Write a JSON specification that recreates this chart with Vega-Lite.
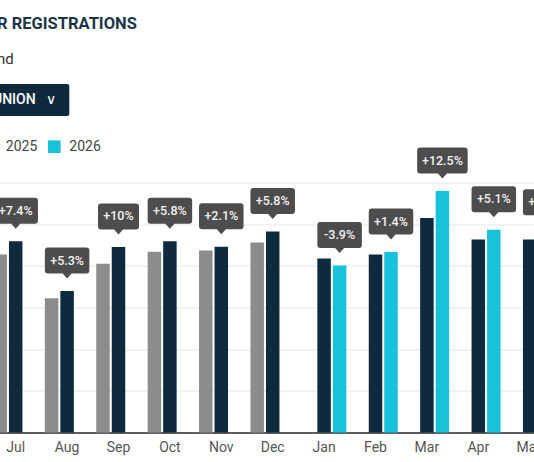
{
  "$schema": "https://vega.github.io/schema/vega-lite/v6.json",
  "width": 565.4,
  "height": 250,
  "autosize": {"type": "none"},
  "padding": {"left": -10, "top": 182.5, "right": -21.4, "bottom": 29.5},
  "background": "white",
  "config": {"view": {"stroke": null}, "font": "Roboto"},
  "title": {
    "text": "R REGISTRATIONS",
    "subtitle": "nd",
    "anchor": "start",
    "frame": "group",
    "dx": 7,
    "font": "Roboto",
    "fontSize": 16.5,
    "fontWeight": "bold",
    "color": "#1b3547",
    "subtitleFont": "Roboto",
    "subtitleFontSize": 15,
    "subtitleColor": "#333333",
    "subtitlePadding": 19.6,
    "offset": 8
  },
  "data": {
    "values": [
      {"month": "Jul", "series": "2024", "value": 855},
      {"month": "Jul", "series": "2025", "value": 918, "change": "+7.4%"},
      {"month": "Aug", "series": "2024", "value": 645},
      {"month": "Aug", "series": "2025", "value": 679, "change": "+5.3%"},
      {"month": "Sep", "series": "2024", "value": 810},
      {"month": "Sep", "series": "2025", "value": 891, "change": "+10%"},
      {"month": "Oct", "series": "2024", "value": 868},
      {"month": "Oct", "series": "2025", "value": 918, "change": "+5.8%"},
      {"month": "Nov", "series": "2024", "value": 874},
      {"month": "Nov", "series": "2025", "value": 892, "change": "+2.1%"},
      {"month": "Dec", "series": "2024", "value": 912},
      {"month": "Dec", "series": "2025", "value": 965, "change": "+5.8%"},
      {"month": "Jan", "series": "2025", "value": 835},
      {"month": "Jan", "series": "2026", "value": 802, "change": "-3.9%"},
      {"month": "Feb", "series": "2025", "value": 854},
      {"month": "Feb", "series": "2026", "value": 866, "change": "+1.4%"},
      {"month": "Mar", "series": "2025", "value": 1030},
      {"month": "Mar", "series": "2026", "value": 1159, "change": "+12.5%"},
      {"month": "Apr", "series": "2025", "value": 926},
      {"month": "Apr", "series": "2026", "value": 973, "change": "+5.1%"},
      {"month": "May", "series": "2025", "value": 926},
      {"month": "May", "series": "2026", "value": 959, "change": "+3.6%"}
    ]
  },
  "encoding": {
    "x": {
      "field": "month",
      "type": "nominal",
      "scale": {
        "domain": ["Jul", "Aug", "Sep", "Oct", "Nov", "Dec", "Jan", "Feb", "Mar", "Apr", "May"],
        "paddingInner": 0.095,
        "paddingOuter": 0.0475
      },
      "axis": {
        "title": null,
        "labelAngle": 0,
        "labelFont": "Roboto",
        "labelFontSize": 14,
        "labelColor": "#555555",
        "labelPadding": 8,
        "ticks": false,
        "domainColor": "#2b2b2b",
        "domainWidth": 1.5,
        "grid": false
      }
    },
    "xOffset": {
      "field": "series",
      "type": "nominal",
      "scale": {"domain": ["2024", "2025", "2026"], "paddingInner": 0.13, "paddingOuter": 0.065}
    },
    "y": {
      "field": "value",
      "type": "quantitative",
      "scale": {"domain": [0, 1200], "nice": false},
      "axis": {
        "title": null,
        "labels": false,
        "ticks": false,
        "domain": false,
        "values": [0, 200, 400, 600, 800, 1000, 1200],
        "gridColor": "#e6e6e6",
        "gridWidth": 1
      }
    }
  },
  "layer": [
    {
      "mark": {"type": "bar"},
      "encoding": {
        "color": {
          "field": "series",
          "type": "nominal",
          "scale": {"domain": ["2024", "2025", "2026"], "range": ["#8c8c8c", "#0e2a3c", "#19c2db"]},
          "legend": {
            "title": null,
            "orient": "none",
            "direction": "horizontal",
            "legendX": -69.7,
            "legendY": -42.8,
            "padding": 0,
            "symbolType": "square",
            "symbolSize": 160,
            "symbolStrokeWidth": 0,
            "labelFont": "Roboto",
            "labelFontSize": 14,
            "labelColor": "#444444",
            "labelOffset": 8,
            "columnPadding": 9.5
          }
        }
      }
    },
    {
      "transform": [
        {"filter": "datum.change"},
        {"calculate": "length(datum.change)", "as": "len"}
      ],
      "mark": {"type": "point", "filled": true, "color": "#4d4d4d", "opacity": 1, "size": 2500, "strokeWidth": 0, "yOffset": -12.5},
      "encoding": {
        "shape": {
          "field": "len",
          "type": "ordinal",
          "scale": {
            "domain": [4, 5, 6],
            "range": [
              "M0,0L-0.18,-0.2H-0.7Q-0.82,-0.2,-0.82,-0.32V-1.12Q-0.82,-1.24,-0.7,-1.24H0.7Q0.82,-1.24,0.82,-1.12V-0.32Q0.82,-0.2,0.7,-0.2H0.18Z",
              "M0,0L-0.18,-0.2H-0.77Q-0.89,-0.2,-0.89,-0.32V-1.12Q-0.89,-1.24,-0.77,-1.24H0.77Q0.89,-1.24,0.89,-1.12V-0.32Q0.89,-0.2,0.77,-0.2H0.18Z",
              "M0,0L-0.18,-0.2H-0.89Q-1.01,-0.2,-1.01,-0.32V-1.12Q-1.01,-1.24,-0.89,-1.24H0.89Q1.01,-1.24,1.01,-1.12V-0.32Q1.01,-0.2,0.89,-0.2H0.18Z"
            ]
          },
          "legend": null
        }
      }
    },
    {
      "transform": [{"filter": "datum.change"}],
      "mark": {"type": "text", "font": "Roboto", "fontSize": 12.5, "fontWeight": 500, "color": "#f2f2f2", "align": "center", "baseline": "middle", "yOffset": -30.5},
      "encoding": {"text": {"field": "change"}}
    },
    {
      "data": {"values": [{"region": "UNION\u00a0\u00a0\u00a0∨"}]},
      "mark": {"type": "point", "filled": true, "size": 0, "opacity": 1},
      "encoding": {
        "x": null,
        "xOffset": null,
        "y": null,
        "fill": {
          "field": "region",
          "type": "nominal",
          "scale": {"range": ["#0e2a3c"]},
          "legend": {
            "title": null,
            "orient": "none",
            "legendX": 29.3,
            "legendY": -107.5,
            "padding": 0,
            "symbolType": "M-4,-0.64H0.92Q1,-0.64,1,-0.56V0.56Q1,0.64,0.92,0.64H-4Z",
            "symbolSize": 2500,
            "symbolStrokeWidth": 0,
            "symbolOpacity": 1,
            "labelFont": "Roboto",
            "labelFontSize": 14,
            "labelFontWeight": 500,
            "labelColor": "#ffffff",
            "labelOffset": -76.3
          }
        }
      }
    }
  ]
}
